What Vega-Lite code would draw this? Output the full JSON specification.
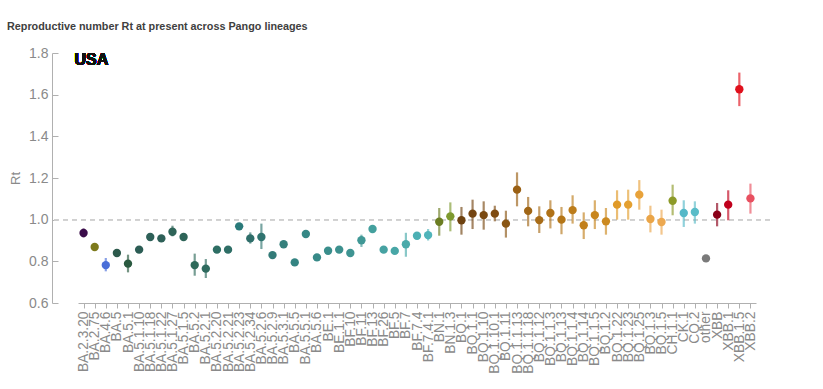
{
  "$schema": "https://vega.github.io/schema/vega-lite/v6.json",
  "autosize": {"type": "none"},
  "width": 718,
  "height": 250,
  "padding": {"left": 52, "top": 53, "right": 53, "bottom": 86},
  "background": "white",
  "title": {
    "text": "Reproductive number Rt at present across Pango lineages",
    "anchor": "start",
    "frame": "group",
    "dx": -45,
    "offset": 14,
    "font": "Liberation Sans",
    "fontSize": 10.8,
    "fontWeight": "bold",
    "color": "#404040"
  },
  "config": {
    "view": {"stroke": null},
    "font": "Liberation Sans"
  },
  "data": {
    "values": [
      {"lineage": "BA.2.3.20", "Rt": 0.936, "lo": 0.915, "hi": 0.958},
      {"lineage": "BA.2.75", "Rt": 0.869, "lo": 0.86, "hi": 0.878},
      {"lineage": "BA.4.6", "Rt": 0.782, "lo": 0.752, "hi": 0.816},
      {"lineage": "BA.5", "Rt": 0.84, "lo": 0.832, "hi": 0.848},
      {"lineage": "BA.5.1", "Rt": 0.789, "lo": 0.747, "hi": 0.832},
      {"lineage": "BA.5.1.10", "Rt": 0.856, "lo": 0.848, "hi": 0.864},
      {"lineage": "BA.5.1.18", "Rt": 0.917, "lo": 0.909, "hi": 0.925},
      {"lineage": "BA.5.1.22", "Rt": 0.91, "lo": 0.902, "hi": 0.918},
      {"lineage": "BA.5.1.27", "Rt": 0.942, "lo": 0.92, "hi": 0.971},
      {"lineage": "BA.5.1.5", "Rt": 0.917, "lo": 0.909, "hi": 0.925},
      {"lineage": "BA.5.2", "Rt": 0.782, "lo": 0.731, "hi": 0.837},
      {"lineage": "BA.5.2.1", "Rt": 0.765, "lo": 0.72, "hi": 0.811},
      {"lineage": "BA.5.2.20", "Rt": 0.856, "lo": 0.848, "hi": 0.864},
      {"lineage": "BA.5.2.21", "Rt": 0.856, "lo": 0.848, "hi": 0.864},
      {"lineage": "BA.5.2.23", "Rt": 0.968, "lo": 0.96, "hi": 0.976},
      {"lineage": "BA.5.2.34", "Rt": 0.91, "lo": 0.885, "hi": 0.939},
      {"lineage": "BA.5.2.6", "Rt": 0.917, "lo": 0.859, "hi": 0.981},
      {"lineage": "BA.5.2.9", "Rt": 0.83, "lo": 0.822, "hi": 0.838},
      {"lineage": "BA.5.3.1", "Rt": 0.882, "lo": 0.874, "hi": 0.89},
      {"lineage": "BA.5.5", "Rt": 0.795, "lo": 0.787, "hi": 0.803},
      {"lineage": "BA.5.5.1", "Rt": 0.931, "lo": 0.923, "hi": 0.939},
      {"lineage": "BA.5.6", "Rt": 0.819, "lo": 0.811, "hi": 0.827},
      {"lineage": "BE.1", "Rt": 0.851, "lo": 0.843, "hi": 0.859},
      {"lineage": "BE.1.1", "Rt": 0.856, "lo": 0.848, "hi": 0.864},
      {"lineage": "BF.10", "Rt": 0.84, "lo": 0.832, "hi": 0.848},
      {"lineage": "BF.11", "Rt": 0.901, "lo": 0.869, "hi": 0.928},
      {"lineage": "BF.13", "Rt": 0.955, "lo": 0.947, "hi": 0.963},
      {"lineage": "BF.26", "Rt": 0.856, "lo": 0.848, "hi": 0.864},
      {"lineage": "BF.5", "Rt": 0.85, "lo": 0.842, "hi": 0.858},
      {"lineage": "BF.7", "Rt": 0.882, "lo": 0.822, "hi": 0.937},
      {"lineage": "BF.7.4", "Rt": 0.923, "lo": 0.915, "hi": 0.931},
      {"lineage": "BF.7.4.1", "Rt": 0.926, "lo": 0.9, "hi": 0.955},
      {"lineage": "BN.1", "Rt": 0.99, "lo": 0.923, "hi": 1.056},
      {"lineage": "BN.1.3", "Rt": 1.016, "lo": 0.944, "hi": 1.083},
      {"lineage": "BQ.1", "Rt": 0.997, "lo": 0.928, "hi": 1.061},
      {"lineage": "BQ.1.1", "Rt": 1.029, "lo": 0.955, "hi": 1.096},
      {"lineage": "BQ.1.10", "Rt": 1.022, "lo": 0.952, "hi": 1.088},
      {"lineage": "BQ.1.10.1", "Rt": 1.029, "lo": 0.992, "hi": 1.067},
      {"lineage": "BQ.1.11", "Rt": 0.981, "lo": 0.914, "hi": 1.043},
      {"lineage": "BQ.1.1.13", "Rt": 1.144, "lo": 1.064, "hi": 1.227},
      {"lineage": "BQ.1.1.18", "Rt": 1.042, "lo": 0.968, "hi": 1.109},
      {"lineage": "BQ.1.12", "Rt": 0.998, "lo": 0.936, "hi": 1.064},
      {"lineage": "BQ.1.1.3", "Rt": 1.032, "lo": 0.958, "hi": 1.093},
      {"lineage": "BQ.1.13", "Rt": 1.0, "lo": 0.93, "hi": 1.061},
      {"lineage": "BQ.1.1.4", "Rt": 1.046, "lo": 0.981, "hi": 1.117},
      {"lineage": "BQ.1.14", "Rt": 0.973, "lo": 0.907, "hi": 1.035},
      {"lineage": "BQ.1.1.5", "Rt": 1.022, "lo": 0.955, "hi": 1.093},
      {"lineage": "BQ.1.2", "Rt": 0.992, "lo": 0.928, "hi": 1.056},
      {"lineage": "BQ.1.22", "Rt": 1.072, "lo": 1.0, "hi": 1.141},
      {"lineage": "BQ.1.23", "Rt": 1.072, "lo": 1.0, "hi": 1.144},
      {"lineage": "BQ.1.25", "Rt": 1.12, "lo": 1.048, "hi": 1.19},
      {"lineage": "BQ.1.3", "Rt": 1.003, "lo": 0.939, "hi": 1.067},
      {"lineage": "BQ.1.5", "Rt": 0.989, "lo": 0.928, "hi": 1.048},
      {"lineage": "CH.1.1", "Rt": 1.091, "lo": 1.021, "hi": 1.168},
      {"lineage": "CK.1", "Rt": 1.032, "lo": 0.965, "hi": 1.093},
      {"lineage": "CQ.2", "Rt": 1.037, "lo": 0.981, "hi": 1.088},
      {"lineage": "other", "Rt": 0.814, "lo": 0.81, "hi": 0.818},
      {"lineage": "XBB", "Rt": 1.024, "lo": 0.968, "hi": 1.08},
      {"lineage": "XBB.1", "Rt": 1.072, "lo": 0.997, "hi": 1.141},
      {"lineage": "XBB.1.5", "Rt": 1.626, "lo": 1.545, "hi": 1.706},
      {"lineage": "XBB.2", "Rt": 1.102, "lo": 1.029, "hi": 1.173}
    ]
  },
  "layer": [
    {
      "mark": {"type": "rule", "strokeDash": [5, 4], "color": "#d0d0d0", "strokeWidth": 1},
      "encoding": {"y": {"datum": 1.0, "type": "quantitative", "scale": {"domain": [0.6, 1.8]}}}
    },
    {
      "mark": {"type": "rule", "strokeWidth": 2.2, "opacity": 0.65},
      "encoding": {
        "x": {"field": "lineage", "type": "nominal", "sort": null},
        "y": {"field": "lo", "type": "quantitative"},
        "y2": {"field": "hi"},
        "color": {"field": "lineage", "type": "nominal", "legend": null}
      }
    },
    {
      "mark": {"type": "point", "filled": true, "opacity": 1, "size": 70},
      "encoding": {
        "x": {
          "field": "lineage",
          "type": "nominal",
          "sort": null,
          "scale": {"type": "point", "range": [26, 704]},
          "axis": {
            "title": null,
            "labelAngle": -90,
            "labelAlign": "right",
            "labelBaseline": "middle",
            "labelFont": "Liberation Sans",
            "labelFontSize": 13.8,
            "labelColor": "#8a8a8a",
            "labelPadding": 3,
            "domainColor": "#b0b0b0",
            "tickColor": "#b0b0b0",
            "tickSize": 5,
            "labelOverlap": false,
            "labelFlush": false
          }
        },
        "y": {
          "field": "Rt",
          "type": "quantitative",
          "scale": {"domain": [0.6, 1.8], "nice": false, "zero": false},
          "axis": {
            "title": "Rt",
            "titleFont": "Liberation Sans",
            "titleFontSize": 13,
            "titleFontWeight": "normal",
            "titleColor": "#8a8a8a",
            "titlePadding": 6,
            "values": [0.6, 0.65, 0.7, 0.75, 0.8, 0.85, 0.9, 0.95, 1.0, 1.05, 1.1, 1.15, 1.2, 1.25, 1.3, 1.35, 1.4, 1.45, 1.5, 1.55, 1.6, 1.65, 1.7, 1.75, 1.8],
            "labelExpr": "abs(datum.value*5 - round(datum.value*5)) < 0.001 ? format(datum.value, '.1f') : ''",
            "tickSize": {"condition": {"test": "abs(datum.value*5 - round(datum.value*5)) < 0.001", "value": -6}, "value": -3},
            "grid": false,
            "labelFont": "Liberation Sans",
            "labelFontSize": 14,
            "labelColor": "#8a8a8a",
            "labelPadding": 10,
            "domainColor": "#b0b0b0",
            "tickColor": "#b0b0b0"
          }
        },
        "color": {
          "field": "lineage",
          "type": "nominal",
          "legend": null,
          "scale": {
            "domain": ["BA.2.3.20","BA.2.75","BA.4.6","BA.5","BA.5.1","BA.5.1.10","BA.5.1.18","BA.5.1.22","BA.5.1.27","BA.5.1.5","BA.5.2","BA.5.2.1","BA.5.2.20","BA.5.2.21","BA.5.2.23","BA.5.2.34","BA.5.2.6","BA.5.2.9","BA.5.3.1","BA.5.5","BA.5.5.1","BA.5.6","BE.1","BE.1.1","BF.10","BF.11","BF.13","BF.26","BF.5","BF.7","BF.7.4","BF.7.4.1","BN.1","BN.1.3","BQ.1","BQ.1.1","BQ.1.10","BQ.1.10.1","BQ.1.11","BQ.1.1.13","BQ.1.1.18","BQ.1.12","BQ.1.1.3","BQ.1.13","BQ.1.1.4","BQ.1.14","BQ.1.1.5","BQ.1.2","BQ.1.22","BQ.1.23","BQ.1.25","BQ.1.3","BQ.1.5","CH.1.1","CK.1","CQ.2","other","XBB","XBB.1","XBB.1.5","XBB.2"],
            "range": ["#3a0c4a","#7d7a1c","#4a6fd8","#2d5a4c","#2a5a40","#2c5d55","#2e6058","#2e6058","#2e6458","#2e6458","#2e6a5a","#2e6a5e","#2e6e64","#2e6e66","#2a7a7a","#2f6e6a","#307470","#337b78","#35807c","#348482","#368886","#388a88","#3a8e8c","#3c908e","#3e9492","#409896","#44a09e","#46a2a2","#48a6a6","#4aaaaa","#4cb0b4","#50b4ba","#6b7d22","#7e9a30","#6e4210","#744512","#7a4a12","#7e4c12","#8a5614","#9a6014","#a06616","#a86c18","#b07218","#b47618","#bc7c1a","#c2801c","#c8861e","#cc8a20","#e09a28","#e4a030","#e8a23a","#eaa548","#eca850","#8c9a28","#55b8c8","#5abcc8","#7a7a7a","#8a0018","#c0001c","#e0101c","#e85060"]
          }
        }
      }
    },
    {
      "mark": {"type": "text", "align": "left", "baseline": "middle", "font": "Liberation Sans", "fontSize": 16, "fontWeight": "bold", "color": "#111111", "dx": -9},
      "encoding": {
        "x": {"datum": "BA.2.3.20", "type": "nominal"},
        "y": {"datum": 1.765, "type": "quantitative"},
        "text": {"value": "USA"}
      }
    }
  ]
}
